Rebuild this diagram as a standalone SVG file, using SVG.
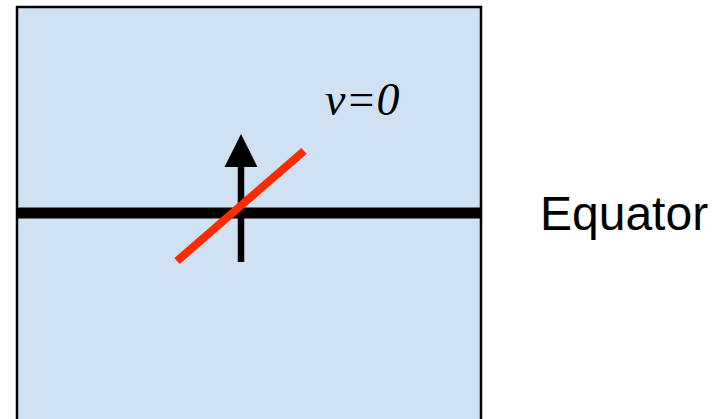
<svg xmlns="http://www.w3.org/2000/svg" width="726" height="419" viewBox="0 0 726 419">
<style>
.box{fill:#cfe1f3;stroke:#000;stroke-width:2.5}
.equ{stroke:#000;stroke-width:11}
.vec{stroke:#000;stroke-width:6.5}
.red{stroke:#ff2a00;stroke-width:8}
.lbl{font-family:"Liberation Serif",serif;font-style:italic;font-size:46px;fill:#000}
.eq{font-family:"Liberation Sans",Arial,sans-serif;font-size:48px;fill:#000}
</style>
<g id="panel">
<rect class="box" x="17" y="7" width="464" height="430"/>
</g>
<g id="connectors">
<line class="equ" x1="17" y1="213" x2="481" y2="213"/>
<line class="vec" x1="241" y1="262" x2="241" y2="164"/>
<polygon points="241,134 224.5,167 257.5,167" fill="#000"/>
<line class="red" x1="177" y1="261" x2="304" y2="151"/>
</g>
<g id="label-v">
<text class="lbl" x="325" y="115">v=0</text>
</g>
<g id="label-equator">
<text class="eq" x="540" y="230">Equator</text>
</g>
</svg>
